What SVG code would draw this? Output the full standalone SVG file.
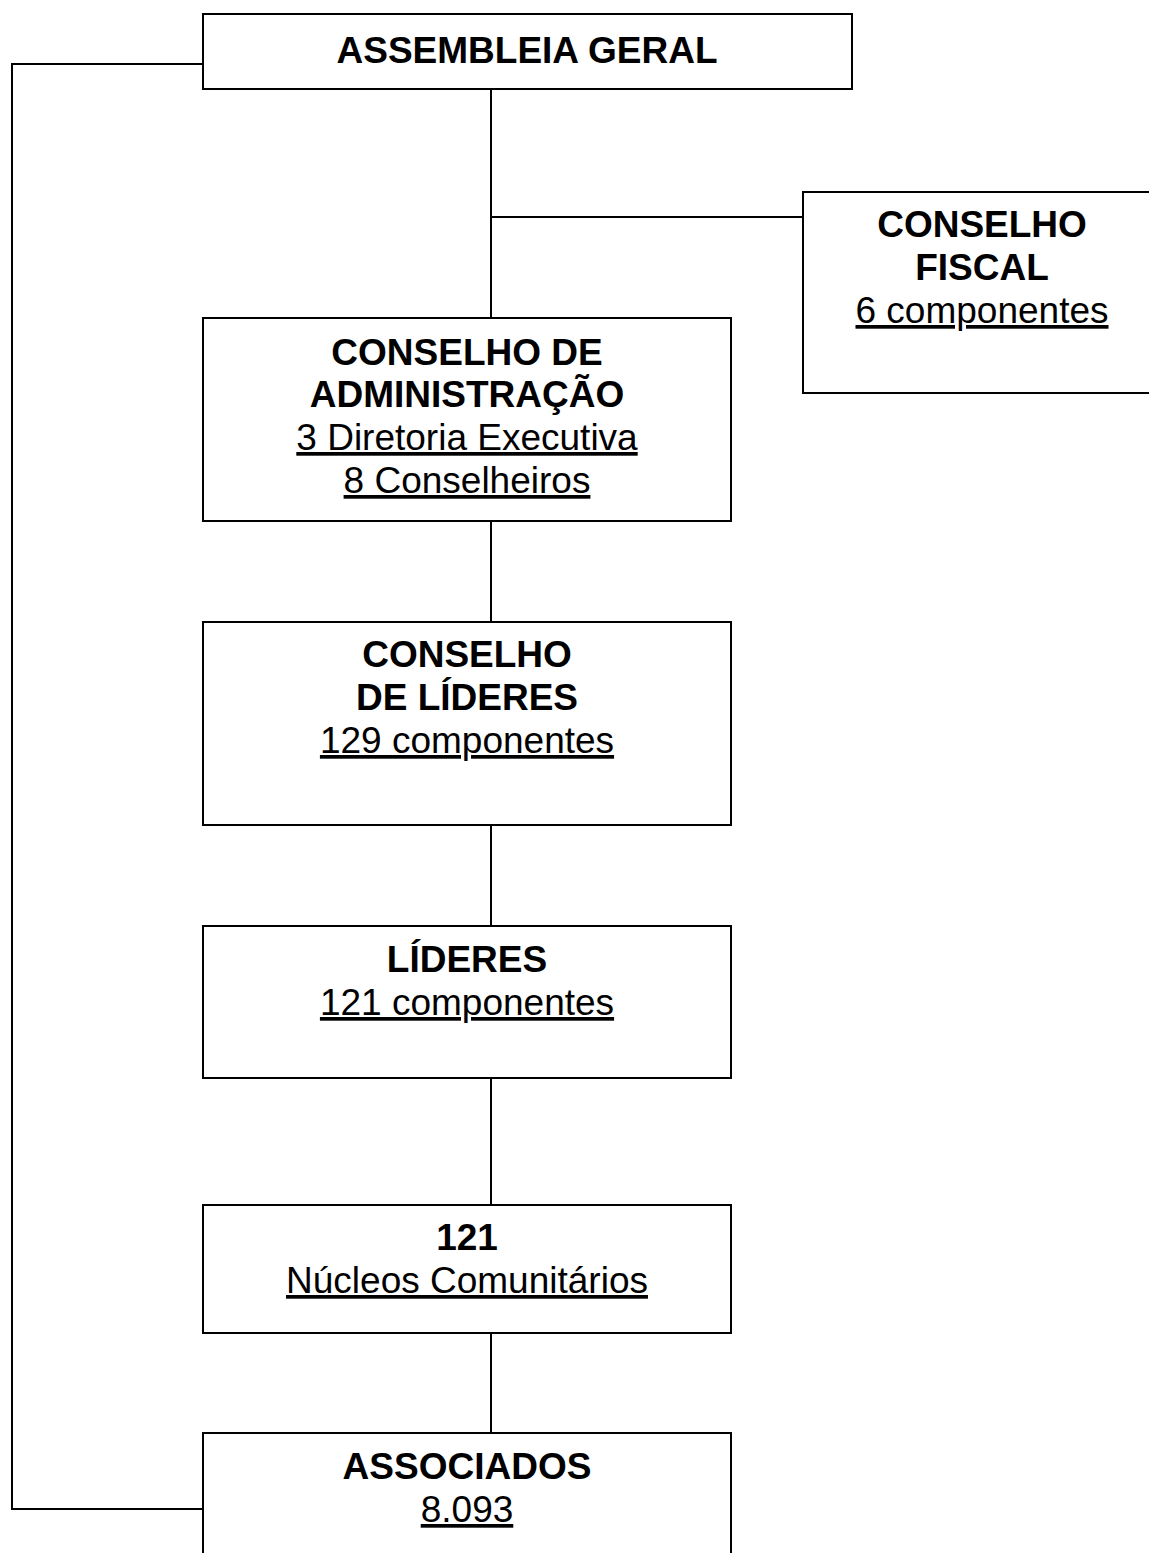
<svg xmlns="http://www.w3.org/2000/svg" width="1149" height="1553" viewBox="0 0 1149 1553">
  <style>
    .box { fill: #ffffff; stroke: #000000; stroke-width: 2; }
    .ln { fill: none; stroke: #000000; stroke-width: 2; }
    text { font-family: "Liberation Sans", Arial, sans-serif; font-size: 37px; fill: #000000; text-anchor: middle; }
    .b { font-weight: bold; }
    .u { text-decoration: underline; }
  </style>
  <rect width="1149" height="1553" fill="#ffffff"/>
  <g id="connectors">
    <polyline class="ln" points="203,64 12,64 12,1509 203,1509"/>
    <line class="ln" x1="491" y1="89" x2="491" y2="318"/>
    <line class="ln" x1="491" y1="217" x2="803" y2="217"/>
    <line class="ln" x1="491" y1="521" x2="491" y2="622"/>
    <line class="ln" x1="491" y1="825" x2="491" y2="926"/>
    <line class="ln" x1="491" y1="1078" x2="491" y2="1205"/>
    <line class="ln" x1="491" y1="1333" x2="491" y2="1433"/>
  </g>
  <g id="assembleia">
    <rect class="box" x="203" y="14" width="649" height="75"/>
    <text class="b" x="527" y="63">ASSEMBLEIA GERAL</text>
  </g>
  <g id="conselho-fiscal">
    <rect class="box" x="803" y="192" width="360" height="201"/>
    <text class="b" x="982" y="237">CONSELHO</text>
    <text class="b" x="982" y="280">FISCAL</text>
    <text class="u" x="982" y="323">6 componentes</text>
  </g>
  <g id="conselho-administracao">
    <rect class="box" x="203" y="318" width="528" height="203"/>
    <text class="b" x="467" y="365">CONSELHO DE</text>
    <text class="b" x="467" y="407">ADMINISTRAÇÃO</text>
    <text class="u" x="467" y="450">3 Diretoria Executiva</text>
    <text class="u" x="467" y="493">8 Conselheiros</text>
  </g>
  <g id="conselho-lideres">
    <rect class="box" x="203" y="622" width="528" height="203"/>
    <text class="b" x="467" y="667">CONSELHO</text>
    <text class="b" x="467" y="710">DE LÍDERES</text>
    <text class="u" x="467" y="753">129 componentes</text>
  </g>
  <g id="lideres">
    <rect class="box" x="203" y="926" width="528" height="152"/>
    <text class="b" x="467" y="972">LÍDERES</text>
    <text class="u" x="467" y="1015">121 componentes</text>
  </g>
  <g id="nucleos">
    <rect class="box" x="203" y="1205" width="528" height="128"/>
    <text class="b" x="467" y="1250">121</text>
    <text class="u" x="467" y="1293">Núcleos Comunitários</text>
  </g>
  <g id="associados">
    <rect class="box" x="203" y="1433" width="528" height="140"/>
    <text class="b" x="467" y="1479">ASSOCIADOS</text>
    <text class="u" x="467" y="1522">8.093</text>
  </g>
</svg>
